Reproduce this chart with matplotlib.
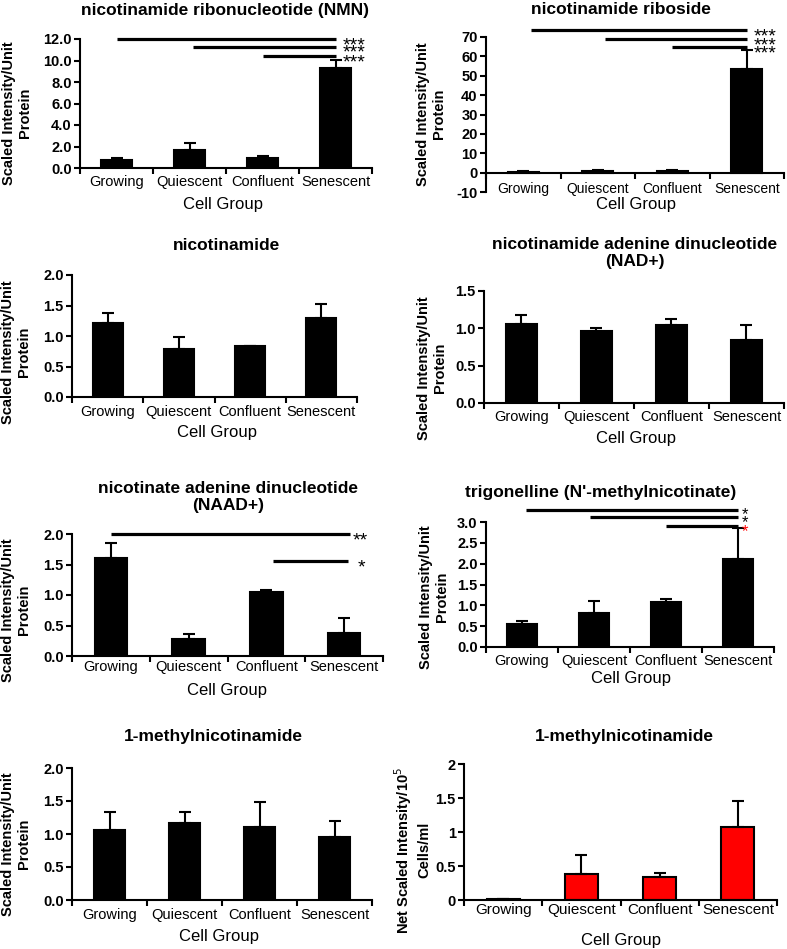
import matplotlib
matplotlib.use("Agg")
import matplotlib.pyplot as plt
from matplotlib.ticker import FormatStrFormatter, FuncFormatter

plt.rcParams['font.family'] = ['Liberation Sans', 'DejaVu Sans']

# === DATA ===
groups = ["Growing", "Quiescent", "Confluent", "Senescent"]

nmn_mean = [0.70, 1.65, 0.93, 9.30]
nmn_err = [0.22, 0.68, 0.22, 0.75]

nr_mean = [0.4, 0.6, 0.6, 53.3]
nr_err = [0.3, 0.5, 0.5, 9.9]

nam_mean = [1.22, 0.78, 0.84, 1.29]
nam_err = [0.16, 0.20, 0.0, 0.23]

nad_mean = [1.06, 0.96, 1.05, 0.85]
nad_err = [0.12, 0.05, 0.07, 0.20]

naad_mean = [1.60, 0.28, 1.05, 0.37]
naad_err = [0.26, 0.08, 0.04, 0.26]

trig_mean = [0.55, 0.81, 1.08, 2.12]
trig_err = [0.08, 0.30, 0.07, 0.74]

mna_mean = [1.06, 1.16, 1.11, 0.95]
mna_err = [0.27, 0.18, 0.37, 0.24]

mna_media_mean = [0.01, 0.38, 0.34, 1.07]
mna_media_err = [0.01, 0.28, 0.05, 0.38]

# === FIGURE ===
W, H = 787, 949
fig = plt.figure(figsize=(W / 100, H / 100), dpi=100)


def box(l, t, r, b):
    return [l / W, 1 - b / H, (r - l) / W, (b - t) / H]


def ftext(x, y, s, **kw):
    fig.text(x / W, 1 - y / H, s, **kw)


def panel(rect, means, errs, ylim, yticks, fmt, pad, color="black", zero_spine=False):
    ax = fig.add_axes(box(*rect))
    x = range(len(groups))
    ax.bar(x, means, width=0.42, color=color, edgecolor="black", linewidth=1.5, zorder=2)
    ax.errorbar(x, means, yerr=[[0] * len(errs), errs], fmt="none", ecolor="black",
                elinewidth=1.5, capsize=4, capthick=1.5, zorder=3)
    ax.set_xlim(-0.5, 3.5)
    ax.set_ylim(*ylim)
    ax.set_yticks(yticks)
    ax.yaxis.set_major_formatter(fmt)
    ax.set_xticks(list(x))
    ax.set_xticklabels(groups, fontsize=10.5)
    ax.set_xticks([-0.5, 0.5, 1.5, 2.5, 3.5], minor=True)
    ax.tick_params(axis="x", which="major", length=0, pad=pad)
    ax.tick_params(axis="x", which="minor", length=4, width=1.5, direction="out")
    ax.tick_params(axis="y", length=4, width=1.5, direction="out", labelsize=10.5, pad=2)
    for lab in ax.get_yticklabels():
        lab.set_fontweight("bold")
    for s in ["top", "right"]:
        ax.spines[s].set_visible(False)
    for s in ["left", "bottom"]:
        ax.spines[s].set_linewidth(1.5)
    if zero_spine:
        ax.spines["bottom"].set_position(("data", 0))
    return ax


def sig(ax, x0, x1, y, stars, dx, color="black", size=14):
    ax.plot([x0, x1], [y, y], color="black", lw=2.3, clip_on=False, solid_capstyle="butt")
    ax.annotate(stars, xy=(x1, y), xytext=(dx, -0.58 * size), textcoords="offset points",
                color=color, fontsize=size, ha="left", va="baseline", annotation_clip=False)


f1 = FormatStrFormatter("%.1f")
fint = FormatStrFormatter("%d")
fg = FuncFormatter(lambda v, p: "%g" % v)

YL = "Scaled Intensity/Unit\nProtein"

# --- NMN ---
ax1 = panel((80, 39, 372, 168), nmn_mean, nmn_err, (0, 12), [0, 2, 4, 6, 8, 10, 12], f1, 5)
sig(ax1, 0.0, 3.0, 12.0, "***", 5)
sig(ax1, 1.05, 3.0, 11.3, "***", 5)
sig(ax1, 2.0, 3.0, 10.4, "***", 5)
ftext(225, 10, "nicotinamide ribonucleotide (NMN)", ha="center", va="center", fontsize=12.5, fontweight="bold")
ftext(17, 113, YL, rotation=90, ha="center", va="center", fontsize=10.5, fontweight="bold", linespacing=1.25)
ftext(223, 205, "Cell Group", ha="center", va="center", fontsize=12)

# --- NR ---
ax2 = panel((486, 37, 784, 192), nr_mean, nr_err, (-10, 70), list(range(-10, 71, 10)), fint, 6.5,
            zero_spine=True)
sig(ax2, 0.1, 3.0, 73.5, "***", 5)
sig(ax2, 1.1, 3.0, 68.8, "***", 5)
sig(ax2, 2.0, 3.0, 64.9, "***", 5)
ftext(621, 10, "nicotinamide riboside", ha="center", va="center", fontsize=12.5, fontweight="bold")
ftext(431, 114, YL, rotation=90, ha="center", va="center", fontsize=10.5, fontweight="bold", linespacing=1.25)
ftext(636, 205, "Cell Group", ha="center", va="center", fontsize=12)

# --- nicotinamide ---
ax3 = panel((72, 275, 357, 397), nam_mean, nam_err, (0, 2.0), [0, 0.5, 1.0, 1.5, 2.0], f1, 5.8)
ftext(227, 245, "nicotinamide", ha="center", va="center", fontsize=12.5, fontweight="bold")
ftext(16, 352, YL, rotation=90, ha="center", va="center", fontsize=10.5, fontweight="bold", linespacing=1.25)
ftext(217, 433, "Cell Group", ha="center", va="center", fontsize=12)

# --- NAD+ ---
ax4 = panel((484, 291, 784, 403), nad_mean, nad_err, (0, 1.5), [0, 0.5, 1.0, 1.5], f1, 5)
ftext(635, 253, "nicotinamide adenine dinucleotide\n(NAD+)", ha="center", va="center",
      fontsize=12.5, fontweight="bold", linespacing=1.15)
ftext(432, 368, YL, rotation=90, ha="center", va="center", fontsize=10.5, fontweight="bold", linespacing=1.25)
ftext(636, 438, "Cell Group", ha="center", va="center", fontsize=12)

# --- NAAD+ ---
ax5 = panel((72, 534, 383, 656), naad_mean, naad_err, (0, 2.0), [0, 0.5, 1.0, 1.5, 2.0], f1, 3)
sig(ax5, 0.0, 3.08, 2.0, "**", 2)
sig(ax5, 2.09, 3.05, 1.56, "*", 7)
ftext(228, 497, "nicotinate adenine dinucleotide\n(NAAD+)", ha="center", va="center",
      fontsize=12.5, fontweight="bold", linespacing=1.15)
ftext(16, 610, YL, rotation=90, ha="center", va="center", fontsize=10.5, fontweight="bold", linespacing=1.25)
ftext(227, 690, "Cell Group", ha="center", va="center", fontsize=12)

# --- trigonelline ---
ax6 = panel((486, 522, 774, 647), trig_mean, trig_err, (0, 3.0), [0, 0.5, 1.0, 1.5, 2.0, 2.5, 3.0], f1, 5)
sig(ax6, 0.05, 3.0, 3.29, "*", 3, size=12)
sig(ax6, 0.95, 3.0, 3.12, "*", 3, size=12)
sig(ax6, 2.0, 3.0, 2.90, "*", 3, color="red", size=12)
ftext(601, 492, "trigonelline (N'-methylnicotinate)", ha="center", va="center", fontsize=12.5, fontweight="bold")
ftext(434, 597, YL, rotation=90, ha="center", va="center", fontsize=10.5, fontweight="bold", linespacing=1.25)
ftext(631, 679, "Cell Group", ha="center", va="center", fontsize=12)

# --- 1-methylnicotinamide ---
ax7 = panel((72, 768, 372, 900), mna_mean, mna_err, (0, 2.0), [0, 0.5, 1.0, 1.5, 2.0], f1, 5.8)
ftext(213, 737, "1-methylnicotinamide", ha="center", va="center", fontsize=12.5, fontweight="bold")
ftext(16, 844, YL, rotation=90, ha="center", va="center", fontsize=10.5, fontweight="bold", linespacing=1.25)
ftext(219, 936, "Cell Group", ha="center", va="center", fontsize=12)

# --- 1-methylnicotinamide (media) ---
ax8 = panel((464, 764, 777, 900), mna_media_mean, mna_media_err, (0, 2), [0, 0.5, 1, 1.5, 2], fg, 2.5,
            color="red")
ax8.tick_params(axis="x", labelsize=11)
ftext(624, 737, "1-methylnicotinamide", ha="center", va="center", fontsize=12.5, fontweight="bold")
ftext(412, 850, "Net Scaled Intensity/10$^{5}$\nCells/ml", rotation=90, ha="center", va="center",
      fontsize=10.5, fontweight="bold", linespacing=1.25)
ftext(621, 940, "Cell Group", ha="center", va="center", fontsize=12)

fig.savefig("out.png", dpi=100, facecolor="white")
